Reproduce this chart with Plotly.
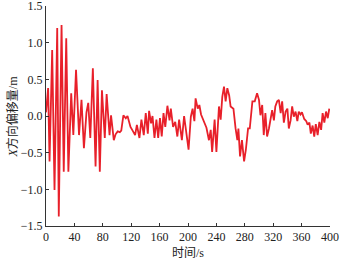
import plotly.graph_objects as go

time_s = [0, 3, 5, 8.7, 12, 15.8, 18, 21.9, 25, 28.5, 31.5, 35.5, 38.5, 42.3, 46.5, 50, 53.4, 57, 59.5,
          62.4, 66, 69.8, 72.7, 75.8, 78.8, 82.8, 85.4, 89.5, 91.6, 95.5, 98, 101, 104, 106, 109, 112.4,
          114.8, 119, 122, 125.5, 128, 131.6, 134.4, 137.7, 140.5, 143.4, 145.2, 148, 150, 152.8, 155.5,
          158, 160.5, 163, 165.5, 168, 171, 174, 175.8, 179, 182, 185, 187.5, 191.4, 194.5, 198, 200.8,
          204, 206.5, 209, 210.7, 213.7, 216, 218.4, 223, 226, 229.5, 232, 234, 237.5, 240, 243.6, 246,
          248.3, 250.7, 253, 255.4, 258, 260, 264, 267, 269.5, 271, 273.3, 276, 279, 281.5, 284.6, 287,
          290.7, 294, 297.3, 300, 302, 304.5, 306.7, 309, 311.4, 314, 316, 318.5, 321, 323, 325.6, 328,
          330.5, 332.6, 335, 337.5, 340, 342, 344.5, 346.7, 349, 351.5, 354, 356, 358.5, 360.5, 363.7,
          366.6, 368.5, 371, 373, 375.5, 377.8, 380, 382.6, 385, 387.5, 389.6, 392, 394.4, 396.8, 399]
x_offset_m = [0.05, 0.38, -0.62, 0.9, -1.01, 1.2, -1.37, 1.24, -0.76, 1.06, -0.76, 0.31, -0.26, 0.63,
              -0.26, 0.22, -0.44, 0.05, 0.18, -0.3, 0.65, -0.69, 0.49, -0.76, 0.35, -0.3, 0.3, -0.26,
              0.01, -0.33, -0.25, -0.21, -0.22, -0.2, 0.01, -0.03, 0.0, -0.15, -0.2, -0.26, -0.12, -0.3,
              -0.05, -0.26, 0.04, -0.24, 0.07, -0.1, 0.0, -0.3, -0.05, -0.3, -0.03, -0.28, 0.04, -0.15,
              0.14, -0.06, 0.1, -0.15, -0.08, -0.28, -0.05, -0.33, 0.0, -0.28, -0.46, -0.01, 0.1, -0.07,
              0.24, 0.1, 0.15, 0.02, -0.08, -0.16, -0.33, -0.19, -0.49, -0.05, -0.49, 0.13, -0.05, 0.26,
              0.4, 0.2, 0.38, 0.28, 0.13, 0.1, -0.17, -0.33, -0.17, -0.55, -0.33, -0.62, -0.46, -0.17,
              -0.17, 0.2, 0.2, 0.31, 0.22, 0.01, 0.15, -0.26, 0.04, -0.28, -0.17, -0.05, 0.08, -0.06, 0.13,
              0.2, 0.22, 0.04, 0.2, -0.09, 0.06, 0.1, -0.17, -0.06, 0.13, -0.01, 0.06, -0.07, 0.06, 0.02,
              0.05, -0.04, -0.07, -0.12, -0.09, -0.24, -0.13, -0.28, -0.11, -0.26, -0.08, -0.19, 0.04,
              -0.09, 0.06, -0.03, 0.1]

x_ticks = [0, 40, 80, 120, 160, 200, 240, 280, 320, 360, 400]
y_ticks = [-1.5, -1.0, -0.5, 0.0, 0.5, 1.0, 1.5]

SERIF = "Liberation Serif, Noto Sans CJK SC, serif"
TEXT_COLOR = "#222222"

fig = go.Figure()
fig.add_trace(go.Scatter(x=time_s, y=x_offset_m, mode="lines",
                         line=dict(color="#e8202a", width=1.8), showlegend=False))

axis_common = dict(showline=True, linecolor="#333333", linewidth=1, ticks="inside",
                   ticklen=3, tickcolor="#333333", showgrid=False, zeroline=False,
                   ticklabeloverflow="allow", automargin=False,
                   tickfont=dict(family=SERIF, size=12, color=TEXT_COLOR))

fig.update_layout(
    width=343, height=263,
    font=dict(family=SERIF, size=12, color=TEXT_COLOR),
    margin=dict(l=46, r=13, t=6, b=37),
    paper_bgcolor="white", plot_bgcolor="white",
    xaxis=dict(range=[0, 400], tickvals=x_ticks, ticktext=[str(v) for v in x_ticks],
               **axis_common),
    yaxis=dict(range=[-1.5, 1.5], tickvals=y_ticks, tickformat=".1f",
               **axis_common),
    annotations=[
        dict(text="<i>X</i>方向偏移量/m", xref="paper", yref="paper", x=-0.118, y=0.5,
             xanchor="center", yanchor="middle", textangle=-90, showarrow=False,
             font=dict(family=SERIF, size=12, color=TEXT_COLOR)),
        dict(text="时间/s", xref="paper", yref="paper", x=0.5, y=-0.123,
             xanchor="center", yanchor="middle", showarrow=False,
             font=dict(family=SERIF, size=12, color=TEXT_COLOR)),
    ],
)

fig.write_html("out.html", config={"displayModeBar": False},
               post_script="document.body.style.margin='0';")
